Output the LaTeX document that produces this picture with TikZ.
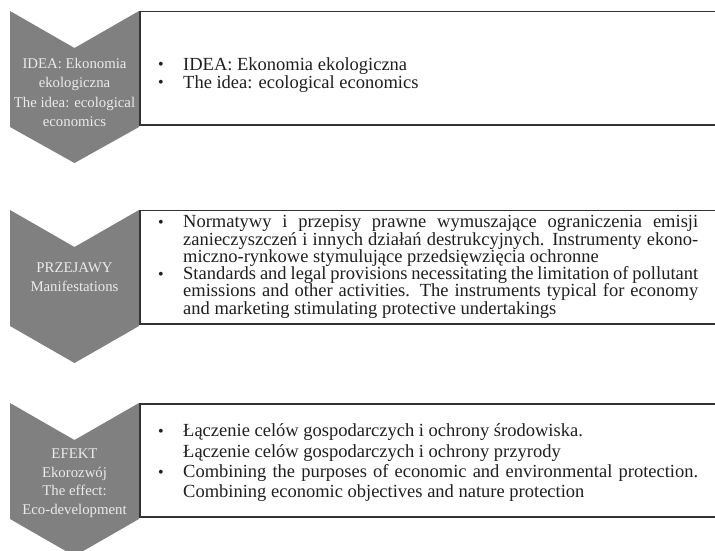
\documentclass[tikz,border=0pt]{standalone}
\usepackage{fontspec}
\setmainfont{Liberation Serif}
\definecolor{chevfill}{HTML}{808080}
\definecolor{chevtext}{HTML}{EBEBEB}
\definecolor{framecol}{HTML}{333333}
\newcommand{\bitem}[1]{\noindent\hangindent=25pt\hangafter=1\makebox[25pt][l]{{\fontsize{16}{16}\selectfont\raisebox{0.5pt}{\textbullet}}}#1\par}
\tikzset{
  chevron/.style={fill=chevfill, draw=none},
  framebox/.style={draw=framecol, line width=1.2pt, fill=white},
  chevlabel/.style={anchor=base, inner sep=0pt, text=chevtext},
  boxlabel/.style={anchor=base west, inner sep=0pt, text=black!88},
}
\begin{document}
\begin{tikzpicture}[x=1pt,y=-1pt]
\useasboundingbox (0,0) rectangle (715,550);
\clip (0,0) rectangle (715,550);
% chevrons
\draw[chevron] (10,11) -- (74.5,48) -- (139,11) -- (139,127) -- (74.5,163) -- (10,127) -- cycle;
\draw[chevron] (10,210) -- (74.5,247) -- (139,210) -- (139,326) -- (74.5,363) -- (10,326) -- cycle;
\draw[chevron] (10,403) -- (74.5,440) -- (139,403) -- (139,519) -- (74.5,556) -- (10,519) -- cycle;
% boxes
\draw[framebox] (140,11.5) rectangle (740,125);
\draw[framebox] (140,210.5) rectangle (740,324);
\draw[framebox] (140,404) rectangle (740,517);
% chevron labels
\node[chevlabel] (c1) at (74.5,68.5) {\parbox[t]{150pt}{\centering\fontsize{14.8}{19.3}\selectfont IDEA: Ekonomia\\ ekologiczna\\ The idea: ecological\\ economics}};
\node[chevlabel] (c2) at (74.5,272.5) {\parbox[t]{150pt}{\centering\fontsize{14.8}{18.5}\selectfont PRZEJAWY\\ Manifestations}};
\node[chevlabel] (c3) at (74.5,458.3) {\parbox[t]{150pt}{\centering\fontsize{14.8}{18.8}\selectfont EFEKT\\ Ekorozwój\\ The effect:\\ Eco-development}};
% box texts
\node[boxlabel] (t1) at (158,70) {\parbox[t]{540pt}{\fontsize{18.5}{18}\selectfont\tolerance=10000\hyphenpenalty=10000
\bitem{IDEA: Ekonomia ekologiczna}
\bitem{The idea: ecological economics}}};
\node[boxlabel] (t2) at (158,227.7) {\parbox[t]{540pt}{\fontsize{18.5}{17.3}\selectfont\tolerance=10000\hyphenpenalty=10000
\bitem{Normatywy i przepisy prawne wymuszające ograniczenia emisji\linebreak zanieczyszczeń i innych działań destrukcyjnych. Instrumenty ekono-\linebreak miczno-rynkowe stymulujące przedsięwzięcia ochronne}
\bitem{Standards and legal provisions necessitating the limitation of pollutant\linebreak emissions and other activities. The instruments typical for economy\linebreak and marketing stimulating protective undertakings}}};
\node[boxlabel] (t3) at (158,436.7) {\parbox[t]{540pt}{\fontsize{18.5}{20.4}\selectfont\tolerance=10000\hyphenpenalty=10000
\bitem{Łączenie celów gospodarczych i ochrony środowiska.\\ Łączenie celów gospodarczych i ochrony przyrody}
\bitem{Combining the purposes of economic and environmental protection.\linebreak Combining economic objectives and nature protection}}};
\end{tikzpicture}
\end{document}
